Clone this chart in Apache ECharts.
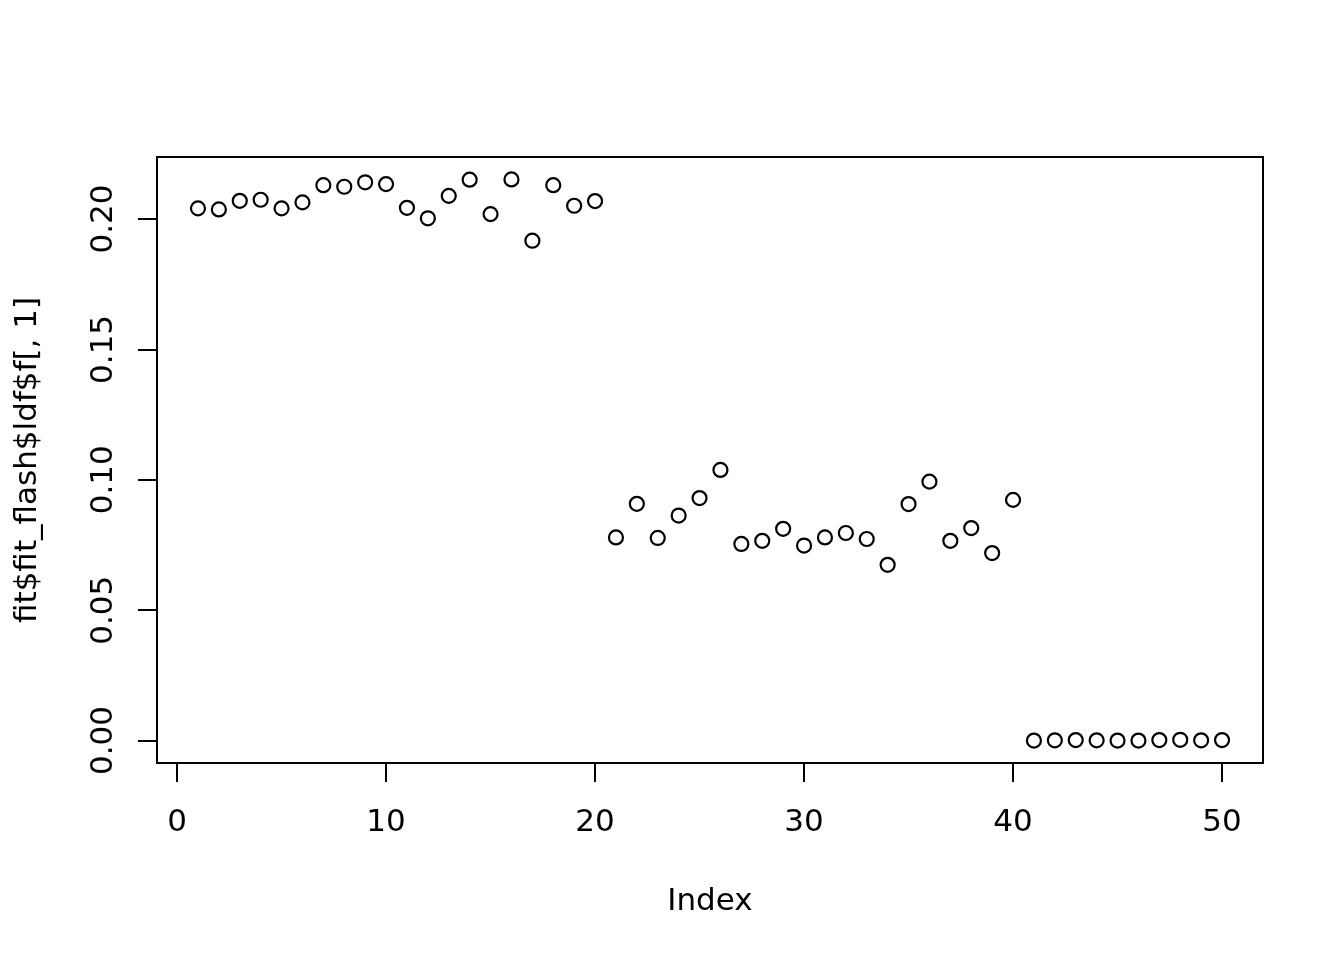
<!DOCTYPE html>
<html>
<head>
<meta charset="utf-8">
<script src="https://cdn.jsdelivr.net/npm/echarts@6/dist/echarts.min.js"></script>
<style>
html,body{margin:0;padding:0;background:#fff;}
#chart{width:1344px;height:960px;}
</style>
</head>
<body>
<div id="chart"></div>
<script>
// Data (index 1..50)
const indexValues = Array.from({length: 50}, (_, i) => i + 1);
const fValues = [
  0.2041, 0.2037, 0.2070, 0.2074, 0.2041, 0.2064, 0.2130, 0.2124, 0.2141, 0.2134,
  0.2043, 0.2003, 0.2089, 0.2151, 0.2019, 0.2152, 0.1917, 0.2130, 0.2051, 0.2069,
  0.0779, 0.0908, 0.0777, 0.0863, 0.0930, 0.1038, 0.0754, 0.0766, 0.0812, 0.0748,
  0.0779, 0.0796, 0.0773, 0.0674, 0.0907, 0.0993, 0.0766, 0.0815, 0.0719, 0.0923,
  0.0000, 0.0001, 0.0002, 0.0001, 0.0000, 0.0000, 0.0002, 0.0003, 0.0001, 0.0002
];
const xTicks = [0, 10, 20, 30, 40, 50];
const yTicks = [0, 0.05, 0.10, 0.15, 0.20];
const xTitle = 'Index';
const yTitle = 'fit$fit_flash$ldf$f[, 1]';

const font = 'DejaVu Sans';
const points = indexValues.map((x, i) => [x, fValues[i]]);

const chart = echarts.init(document.getElementById('chart'), null, {renderer: 'canvas'});
chart.setOption({
  backgroundColor: '#ffffff',
  animation: false,
  grid: {
    left: 157, top: 157, right: 81, bottom: 197,
    show: true, borderColor: '#000', borderWidth: 2, backgroundColor: 'transparent'
  },
  xAxis: {
    type: 'value',
    min: -0.96, max: 51.96,
    name: xTitle, nameLocation: 'middle', nameGap: 123,
    nameTextStyle: {fontFamily: font, fontSize: 31, color: '#000'},
    axisLine: {show: false, onZero: false},
    splitLine: {show: false},
    axisTick: {show: true, inside: false, customValues: xTicks, length: 19, lineStyle: {color: '#000', width: 2}},
    axisLabel: {show: true, customValues: xTicks, margin: 44, fontFamily: font, fontSize: 31, color: '#000',
      formatter: v => String(v)}
  },
  yAxis: {
    type: 'value',
    min: -0.0086, max: 0.2238,
    name: yTitle, nameLocation: 'middle', nameGap: 114, nameRotate: 90,
    nameTextStyle: {fontFamily: font, fontSize: 31, color: '#000'},
    axisLine: {show: false, onZero: false},
    splitLine: {show: false},
    axisTick: {show: true, inside: false, customValues: yTicks, length: 19, lineStyle: {color: '#000', width: 2}},
    axisLabel: {show: true, customValues: yTicks, rotate: 90, margin: 38, fontFamily: font, fontSize: 31, color: '#000',
      formatter: v => v.toFixed(2)}
  },
  series: [{
    type: 'scatter',
    data: points,
    symbol: 'circle',
    symbolSize: 14,
    itemStyle: {color: 'transparent', borderColor: '#000', borderWidth: 2.2, opacity: 1},
    emphasis: {disabled: true}
  }]
});
</script>
</body>
</html>
